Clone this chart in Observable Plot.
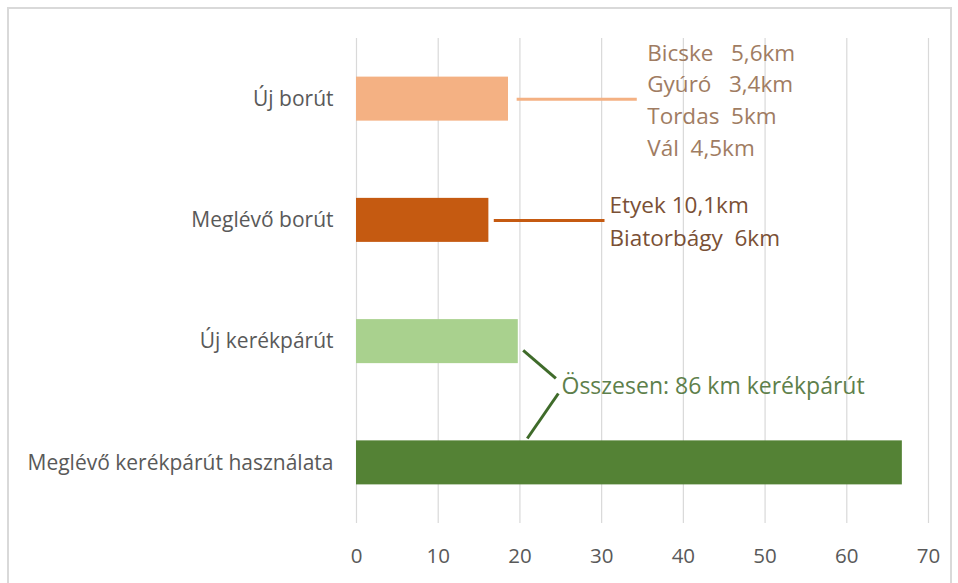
<!DOCTYPE html>
<html>
<head>
<meta charset="utf-8">
<script src="https://cdn.jsdelivr.net/npm/d3@7"></script>
<script src="https://cdn.jsdelivr.net/npm/@observablehq/plot@0.6"></script>
<style>
  html, body { margin: 0; padding: 0; background: #fff; overflow: hidden; }
  #wrap { position: relative; width: 958px; height: 583px; }
  #border { position: absolute; left: 7px; top: 7px; width: 941px; height: 600px; border: 2px solid #d9d9d9; pointer-events: none; }
  svg text { white-space: pre; }
</style>
</head>
<body>
<div id="wrap"><div id="chart"></div><div id="border"></div></div>
<script>
// ---- data ----
const categories = ["Új borút", "Meglévő borút", "Új kerékpárút", "Meglévő kerékpárút használata"];
const values = [18.6, 16.2, 19.8, 66.8];
const colors = ["#f4b183", "#c55a11", "#a9d18e", "#548235"];
const xTicks = [0, 10, 20, 30, 40, 50, 60, 70];
const newWineRoutes = ["Bicske   5,6km", "Gyúró   3,4km", "Tordas  5km", "Vál  4,5km"];
const oldWineRoutes = ["Etyek 10,1km", "Biatorbágy  6km"];
const totalNote = "Összesen: 86 km kerékpárút";

// ---- build ----
const rows = categories.map((c, i) => ({ idx: i, value: values[i], color: colors[i] }));
const half = 0.1815; // half bar thickness in band units
const font = "'Open Sans', sans-serif";

const chart = Plot.plot({
  width: 958,
  height: 583,
  marginLeft: 356,
  marginRight: 30,
  marginTop: 38,
  marginBottom: 60,
  style: { fontFamily: font, background: "transparent", overflow: "visible" },
  x: { domain: [0, 70] },
  y: { domain: [-0.5, 3.5], reverse: true },
  color: { type: "identity" },
  marks: [
    Plot.gridX(xTicks, { stroke: "#d9d9d9", strokeOpacity: 1, strokeWidth: 1.2 }),
    Plot.axisX(xTicks, { tickSize: 0, tickPadding: 25, fontSize: 20.5, fill: "#595959", label: null, tickFormat: d => String(d) }),
    Plot.axisY([0, 1, 2, 3], { tickSize: 0, tickPadding: 23, fontSize: 21, fill: "#595959", label: null, tickFormat: i => categories[i] }),
    Plot.rect(rows, { x1: 0, x2: "value", y1: d => d.idx - half, y2: d => d.idx + half, fill: "color" }),
    // connectors
    Plot.link([0], { x1: 19.6, x2: 34.3, y1: 0, y2: 0, stroke: colors[0], strokeWidth: 3 }),
    Plot.link([0], { x1: 16.8, x2: 30.35, y1: 1, y2: 1, stroke: colors[1], strokeWidth: 3 }),
    Plot.link([0], { x1: 20.4, y1: 2.073, x2: 24.4, y2: 2.304, stroke: "#3f6b2a", strokeWidth: 3 }),
    Plot.link([0], { x1: 24.7, y1: 2.428, x2: 20.9, y2: 2.799, stroke: "#3f6b2a", strokeWidth: 3 }),
    // annotation texts
    Plot.text([newWineRoutes.join("\n")], { x: 35.58, y: -0.008, text: d => d, textAnchor: "start", lineHeight: 1.41, fontSize: 22.5, fill: "#a07c62" }),
    Plot.text([oldWineRoutes.join("\n")], { x: 30.97, y: 0.99, text: d => d, textAnchor: "start", lineHeight: 1.48, fontSize: 22.5, fill: "#7a5035" }),
    Plot.text([totalNote], { x: 25.09, y: 2.37, text: d => d, textAnchor: "start", fontSize: 23, fill: "#5e7f4b" })
  ]
});
document.getElementById("chart").appendChild(chart);
</script>
</body>
</html>
